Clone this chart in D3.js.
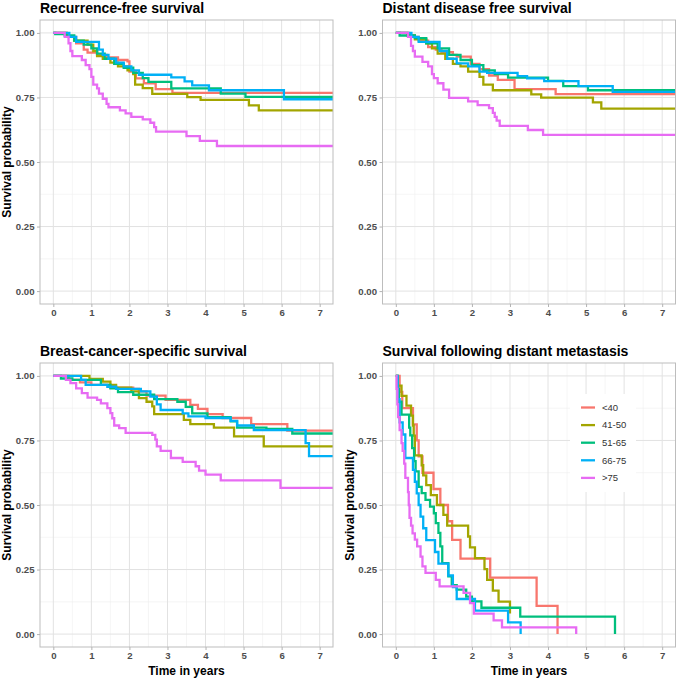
<!DOCTYPE html>
<html lang="en">
<head>
<meta charset="UTF-8">
<title>Survival by age group</title>
<script src="https://d3js.org/d3.v7.min.js"></script>
<style>
  body { margin: 0; background: #fff; }
  text { font-family: "Liberation Sans", Arial, sans-serif; }
  .tick-label { font-size: 9.6px; font-weight: bold; fill: #4d4d4d; }
  .panel-title { font-size: 14px; font-weight: bold; fill: #000; }
  .axis-title { font-size: 12px; font-weight: bold; fill: #000; }
  .legend-label { font-size: 9.5px; fill: #333; }
</style>
</head>
<body>
<svg id="chart" width="678" height="678"></svg>
<script>
const groups = ["<40", "41-50", "51-65", "66-75", ">75"];
const colors = ["#F8766D", "#A3A500", "#00BF7D", "#00B0F6", "#E76BF3"];
const titles = ["Recurrence-free survival", "Distant disease free survival",
  "Breast-cancer-specific survival", "Survival following distant metastasis"];
const xTicks = [0, 1, 2, 3, 4, 5, 6, 7];
const yTicks = [0, 0.25, 0.5, 0.75, 1];

// [time in years, survival probability]
const rfsLt40 = [[0,1],[0.35,0.985],[0.6,0.96],[0.8,0.935],[0.9,0.924],[1.15,0.915],[1.4,0.905],[1.7,0.895],[1.95,0.89],[2.0,0.85],[2.17,0.824],[2.38,0.805],[2.69,0.782],[3.13,0.768]];
const rfs41 = [[0,1],[0.35,0.985],[0.55,0.97],[0.9,0.955],[1.05,0.93],[1.15,0.91],[1.3,0.9],[1.5,0.885],[1.7,0.87],[1.95,0.855],[2.1,0.84],[2.15,0.80],[2.35,0.786],[2.6,0.764],[3.52,0.751],[3.87,0.741],[5.14,0.719],[5.4,0.70]];
const rfs51 = [[0,1],[0.05,0.995],[0.3,0.99],[0.55,0.97],[0.8,0.955],[1.0,0.94],[1.15,0.92],[1.35,0.9],[1.6,0.88],[1.85,0.865],[2.1,0.845],[2.35,0.825],[2.5,0.81],[3.1,0.785],[4.4,0.765],[5.05,0.752]];
const rfs66 = [[0,1],[0.42,0.985],[0.6,0.965],[1.2,0.935],[1.3,0.915],[1.45,0.9],[1.65,0.885],[1.85,0.87],[2.05,0.855],[2.25,0.838],[3.1,0.828],[3.45,0.812],[3.65,0.797],[4.09,0.778],[6.06,0.743]];
const rfs75 = [[0,1],[0.3,0.985],[0.4,0.96],[0.45,0.93],[0.5,0.91],[0.75,0.895],[0.85,0.875],[0.95,0.86],[1.0,0.83],[1.05,0.8],[1.15,0.785],[1.2,0.765],[1.3,0.745],[1.4,0.725],[1.45,0.712],[1.75,0.70],[1.9,0.688],[2.05,0.675],[2.35,0.665],[2.55,0.652],[2.65,0.635],[2.7,0.618],[3.5,0.60],[3.85,0.582],[4.3,0.562]];

const ddfsLt40 = [[0,1],[0.35,0.985],[0.6,0.97],[0.85,0.945],[1.05,0.935],[1.2,0.925],[1.5,0.915],[1.6,0.908],[1.97,0.88],[2.2,0.86],[2.45,0.835],[2.68,0.818],[3.12,0.782],[4.2,0.763]];
const ddfs41 = [[0,1],[0.3,0.99],[0.5,0.975],[0.8,0.96],[0.95,0.94],[1.1,0.92],[1.3,0.9],[1.5,0.88],[1.7,0.87],[1.9,0.85],[2.2,0.83],[2.3,0.80],[2.55,0.778],[3.56,0.762],[3.82,0.749],[5.18,0.731],[5.4,0.707]];
const ddfs51 = [[0,1],[0.1,0.99],[0.5,0.98],[0.8,0.96],[1.1,0.94],[1.4,0.915],[1.7,0.895],[2.0,0.875],[2.3,0.855],[2.6,0.84],[2.95,0.827],[4.0,0.814],[4.4,0.794],[5.05,0.778]];
const ddfs66 = [[0,1],[0.41,0.985],[0.6,0.965],[1.15,0.93],[1.35,0.9],[1.6,0.882],[1.9,0.87],[2.2,0.85],[2.4,0.845],[3.2,0.833],[3.45,0.824],[3.9,0.813],[4.8,0.794],[5.7,0.772]];
const ddfs75 = [[0,1],[0.32,0.985],[0.4,0.95],[0.45,0.93],[0.5,0.908],[0.7,0.888],[0.85,0.87],[0.95,0.84],[1.0,0.825],[1.1,0.805],[1.25,0.78],[1.4,0.748],[1.9,0.735],[2.15,0.72],[2.45,0.709],[2.55,0.69],[2.6,0.675],[2.65,0.66],[2.73,0.64],[3.47,0.624],[3.87,0.605]];

const bcssLt40 = [[0,1],[0.4,0.985],[0.7,0.975],[1.0,0.965],[1.5,0.955],[2.1,0.95],[2.25,0.94],[2.45,0.924],[2.95,0.907],[3.6,0.888],[3.8,0.872],[4.05,0.852],[4.45,0.837],[5.2,0.813],[6.15,0.788]];
const bcss41 = [[0,1],[0.95,0.988],[1.3,0.978],[1.5,0.965],[1.65,0.955],[2.05,0.94],[2.25,0.914],[2.45,0.9],[2.6,0.882],[2.65,0.852],[3.43,0.83],[3.6,0.813],[4.22,0.8],[4.75,0.766],[5.53,0.727]];
const bcss51 = [[0,1],[0.2,0.99],[0.5,0.985],[1.25,0.965],[1.5,0.952],[1.7,0.937],[2.1,0.927],[2.65,0.91],[3.26,0.9],[3.48,0.88],[3.65,0.855],[4.05,0.84],[4.66,0.824],[4.83,0.8],[5.6,0.795],[6.28,0.777]];
const bcss66 = [[0,1],[0.73,0.985],[0.85,0.965],[1.42,0.958],[1.65,0.95],[2.3,0.94],[2.55,0.92],[2.72,0.89],[2.82,0.868],[3.4,0.855],[3.55,0.843],[4.0,0.837],[4.66,0.826],[4.83,0.808],[5.27,0.79],[6.63,0.74],[6.72,0.689]];
const bcss75 = [[0,1],[0.33,0.985],[0.45,0.972],[0.6,0.952],[0.75,0.933],[0.9,0.916],[1.15,0.907],[1.25,0.894],[1.42,0.875],[1.5,0.856],[1.55,0.836],[1.6,0.808],[1.73,0.798],[1.9,0.779],[2.6,0.772],[2.68,0.753],[2.72,0.727],[2.82,0.71],[3.09,0.682],[3.4,0.667],[3.74,0.65],[3.83,0.633],[4.0,0.618],[4.4,0.595],[5.97,0.566]];

const metLt40 = [[0,1],[0.1,0.938],[0.17,0.875],[0.45,0.812],[0.55,0.75],[0.6,0.688],[0.7,0.625],[0.99,0.562],[1.17,0.5],[1.37,0.437],[1.48,0.365],[1.7,0.292],[2.48,0.219],[3.7,0.109],[4.25,0.0]];
const met41 = [[0,1],[0.05,0.962],[0.15,0.923],[0.28,0.885],[0.4,0.846],[0.45,0.808],[0.47,0.769],[0.5,0.692],[0.68,0.654],[0.72,0.615],[0.8,0.577],[0.92,0.538],[1.08,0.5],[1.25,0.462],[1.35,0.42],[1.9,0.378],[1.95,0.336],[2.08,0.294],[2.33,0.252],[2.4,0.21],[2.55,0.168],[2.7,0.126],[3.0,0.084],[3.03,0.084]];
const met51 = [[0,1],[0.04,0.95],[0.08,0.9],[0.15,0.85],[0.35,0.8],[0.38,0.77],[0.43,0.72],[0.48,0.67],[0.52,0.63],[0.6,0.57],[0.68,0.546],[0.78,0.52],[0.9,0.494],[1.0,0.468],[1.05,0.43],[1.12,0.392],[1.17,0.34],[1.22,0.275],[1.38,0.224],[1.47,0.19],[1.6,0.172],[1.85,0.145],[2.0,0.127],[2.25,0.102],[3.27,0.068],[5.76,0.0]];
const met66 = [[0,1],[0.05,0.91],[0.1,0.82],[0.18,0.773],[0.25,0.682],[0.45,0.636],[0.5,0.59],[0.55,0.545],[0.6,0.5],[0.65,0.455],[0.72,0.41],[0.8,0.364],[1.03,0.318],[1.12,0.273],[1.38,0.227],[1.5,0.182],[1.6,0.136],[2.08,0.091],[2.95,0.045],[3.28,0.0]];
const met75 = [[0,1],[0.02,0.95],[0.04,0.89],[0.06,0.84],[0.1,0.79],[0.15,0.74],[0.18,0.71],[0.22,0.66],[0.25,0.605],[0.32,0.55],[0.34,0.5],[0.36,0.45],[0.4,0.42],[0.44,0.39],[0.5,0.366],[0.56,0.34],[0.65,0.3],[0.7,0.262],[0.78,0.237],[1.05,0.21],[1.15,0.185],[1.78,0.16],[1.95,0.12],[2.05,0.079],[2.57,0.053],[2.79,0.026],[4.74,0.0]];

const panelSeries = [
  [rfsLt40, rfs41, rfs51, rfs66, rfs75],
  [ddfsLt40, ddfs41, ddfs51, ddfs66, ddfs75],
  [bcssLt40, bcss41, bcss51, bcss66, bcss75],
  [metLt40, met41, met51, met66, met75]
];
// curves still at risk past the axis end run to the panel edge
const runToEdge = [true, true, true, false];

const svg = d3.select("#chart");
const pw = 293, ph = 284;
const boxes = [{x: 40, y: 20}, {x: 382.5, y: 20}, {x: 40, y: 363}, {x: 382.5, y: 363}];

boxes.forEach((b, i) => {
  const x = d3.scaleLinear().domain([-0.35, 7.35]).range([b.x, b.x + pw]);
  const y = d3.scaleLinear().domain([-0.05, 1.05]).range([b.y + ph, b.y]);
  const g = svg.append("g");

  g.append("rect").attr("x", b.x).attr("y", b.y).attr("width", pw).attr("height", ph).attr("fill", "#fff");

  // minor grid
  const xMinor = d3.range(0.5, 7, 1);
  const yMinor = [0.125, 0.375, 0.625, 0.875];
  g.selectAll(".vmin").data(xMinor).join("line")
    .attr("x1", d => x(d)).attr("x2", d => x(d)).attr("y1", b.y).attr("y2", b.y + ph)
    .attr("stroke", "#EFEFEF").attr("stroke-width", 0.6);
  g.selectAll(".hmin").data(yMinor).join("line")
    .attr("x1", b.x).attr("x2", b.x + pw).attr("y1", d => y(d)).attr("y2", d => y(d))
    .attr("stroke", "#EFEFEF").attr("stroke-width", 0.6);
  // major grid
  g.selectAll(".vmaj").data(xTicks).join("line")
    .attr("x1", d => x(d)).attr("x2", d => x(d)).attr("y1", b.y).attr("y2", b.y + ph)
    .attr("stroke", "#E2E2E2").attr("stroke-width", 1);
  g.selectAll(".hmaj").data(yTicks).join("line")
    .attr("x1", b.x).attr("x2", b.x + pw).attr("y1", d => y(d)).attr("y2", d => y(d))
    .attr("stroke", "#E2E2E2").attr("stroke-width", 1);

  const clipId = "clip" + i;
  svg.append("clipPath").attr("id", clipId).append("rect")
    .attr("x", b.x).attr("y", b.y).attr("width", pw).attr("height", ph);

  const line = d3.line().x(d => x(d[0])).y(d => y(d[1])).curve(d3.curveStepAfter);
  panelSeries[i].forEach((s, k) => {
    let pts = s.slice();
    if (runToEdge[i]) pts.push([x.domain()[1] + 1, s[s.length - 1][1]]);
    g.append("path").attr("d", line(pts)).attr("clip-path", `url(#${clipId})`)
      .attr("fill", "none").attr("stroke", colors[k]).attr("stroke-width", 2.3);
  });

  g.append("rect").attr("x", b.x).attr("y", b.y).attr("width", pw).attr("height", ph)
    .attr("fill", "none").attr("stroke", "#BDBDBD").attr("stroke-width", 1);

  // axes
  const xAxis = d3.axisBottom(x).tickValues(xTicks).tickSize(3).tickPadding(2.5);
  const yAxis = d3.axisLeft(y).tickValues(yTicks).tickSize(3).tickPadding(2.5).tickFormat(d3.format(".2f"));
  [g.append("g").attr("transform", `translate(0,${b.y + ph})`).call(xAxis),
   g.append("g").attr("transform", `translate(${b.x},0)`).call(yAxis)].forEach(a => {
    a.select(".domain").remove();
    a.selectAll(".tick line").attr("stroke", "#B3B3B3");
    a.selectAll(".tick text").attr("class", "tick-label").attr("fill", null)
      .style("font-family", "'Liberation Sans', Arial, sans-serif");
  });

  g.append("text").attr("class", "panel-title").attr("x", b.x).attr("y", b.y - 7).text(titles[i]);

  if (i !== 1) {
    g.append("text").attr("class", "axis-title").attr("text-anchor", "middle")
      .attr("transform", `translate(${b.x - 29},${b.y + ph / 2}) rotate(-90)`)
      .text("Survival probability");
  }
  if (i >= 2) {
    g.append("text").attr("class", "axis-title").attr("text-anchor", "middle")
      .attr("x", b.x + pw / 2).attr("y", b.y + ph + 28).text("Time in years");
  }

  if (i === 3) {
    const lg = g.append("g");
    lg.append("rect").attr("x", 570).attr("y", 394).attr("width", 66).attr("height", 98).attr("fill", "#fff");
    groups.forEach((name, k) => {
      const ly = 407.5 + k * 17.6;
      lg.append("line").attr("x1", 581).attr("x2", 595).attr("y1", ly).attr("y2", ly)
        .attr("stroke", colors[k]).attr("stroke-width", 2.3);
      lg.append("text").attr("class", "legend-label").attr("x", 602).attr("y", ly).attr("dy", "0.35em").text(name);
    });
  }
});
</script>
</body>
</html>
